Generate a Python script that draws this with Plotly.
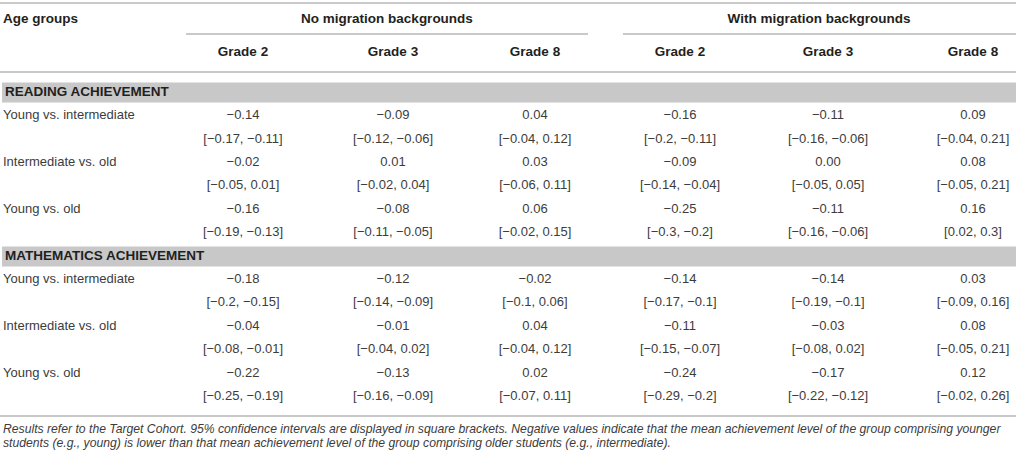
import plotly.graph_objects as go

# table content
groups = ["No migration backgrounds", "With migration backgrounds"]
grades = ["Grade 2", "Grade 3", "Grade 8"]
sections = ["READING ACHIEVEMENT", "MATHEMATICS ACHIEVEMENT"]
comparisons = ["Young vs. intermediate", "Intermediate vs. old", "Young vs. old"]

# columns: no migration G2, G3, G8, with migration G2, G3, G8
reading_mean = [
    [-0.14, -0.09, 0.04, -0.16, -0.11, 0.09],
    [-0.02, 0.01, 0.03, -0.09, 0.00, 0.08],
    [-0.16, -0.08, 0.06, -0.25, -0.11, 0.16],
]
reading_low = [
    [-0.17, -0.12, -0.04, -0.2, -0.16, -0.04],
    [-0.05, -0.02, -0.06, -0.14, -0.05, -0.05],
    [-0.19, -0.11, -0.02, -0.3, -0.16, 0.02],
]
reading_high = [
    [-0.11, -0.06, 0.12, -0.11, -0.06, 0.21],
    [0.01, 0.04, 0.11, -0.04, 0.05, 0.21],
    [-0.13, -0.05, 0.15, -0.2, -0.06, 0.3],
]
math_mean = [
    [-0.18, -0.12, -0.02, -0.14, -0.14, 0.03],
    [-0.04, -0.01, 0.04, -0.11, -0.03, 0.08],
    [-0.22, -0.13, 0.02, -0.24, -0.17, 0.12],
]
math_low = [
    [-0.2, -0.14, -0.1, -0.17, -0.19, -0.09],
    [-0.08, -0.04, -0.04, -0.15, -0.08, -0.05],
    [-0.25, -0.16, -0.07, -0.29, -0.22, -0.02],
]
math_high = [
    [-0.15, -0.09, 0.06, -0.1, -0.1, 0.16],
    [-0.01, 0.02, 0.12, -0.07, 0.02, 0.21],
    [-0.19, -0.09, 0.11, -0.2, -0.12, 0.26],
]

footnote = [
    "Results refer to the Target Cohort. 95% confidence intervals are displayed in square brackets. "
    "Negative values indicate that the mean achievement level of the group comprising younger",
    "students (e.g., young) is lower than that mean achievement level of the group comprising older "
    "students (e.g., intermediate).",
]

# layout (pixel units on hidden axes)
W, H = 1016, 458
col_x = [243, 393, 535, 680, 828, 973]
group_x = [387, 819]
group_lines = [(186, 588), (623, W)]
label_x = 3
y_head, y_grade = 20, 53
rules = [3, 72, 416]
row0, pitch = 116, 23.4
y_foot = [430, 444]

FONT = "Liberation Sans"
DARK = "#231f20"
BODY = "#3c3c3c"
RULE = "#c9c9c9"
BAND = "#c8c8c8"


def fmt_mean(v):
    return f"{v:.2f}".replace("-", "\u2212")


def fmt_bound(v):
    return f"{v:.2f}".rstrip("0").replace("-", "\u2212")


def slot_y(slot):
    return row0 + slot * pitch


fig = go.Figure()
shapes = []


def add_text(xs, ys, texts, pos, size=13, color=BODY, bold=False, italic=False):
    fig.add_trace(go.Scatter(
        x=xs, y=ys, text=texts, mode="text", textposition=pos,
        textfont=dict(family=FONT, size=size, color=color,
                      weight="bold" if bold else "normal",
                      style="italic" if italic else "normal"),
        hoverinfo="skip", showlegend=False, cliponaxis=False,
    ))


# header
add_text([label_x], [y_head], ["Age groups"], "middle right", size=13.5, color=DARK, bold=True)
add_text(group_x, [y_head, y_head], groups, "middle center", size=13.5, color=DARK, bold=True)
add_text(col_x, [y_grade] * 6, grades * 2, "middle center", size=13.5, color=DARK, bold=True)

for x0, x1 in group_lines:
    shapes.append(dict(type="line", xref="x", yref="y", x0=x0, x1=x1, y0=34, y1=34,
                       line=dict(color=RULE, width=2)))
for y in rules:
    shapes.append(dict(type="line", xref="x", yref="y", x0=0, x1=W, y0=y, y1=y,
                       line=dict(color=RULE, width=2)))

blocks = [(reading_mean, reading_low, reading_high), (math_mean, math_low, math_high)]
for s, (means, lows, highs) in enumerate(blocks):
    base = s * 7
    band_y = slot_y(base - 1)
    shapes.append(dict(type="rect", xref="x", yref="y", x0=2, x1=W,
                       y0=band_y - 10, y1=band_y + 10, fillcolor=BAND,
                       line=dict(width=0), layer="below"))
    add_text([label_x + 2], [band_y], [sections[s]], "middle right", size=13.5,
             color=DARK, bold=True)

    xs, ys, texts = [], [], []
    for r, name in enumerate(comparisons):
        y_val = slot_y(base + 2 * r)
        y_ci = slot_y(base + 2 * r + 1)
        for c in range(6):
            xs += [col_x[c], col_x[c]]
            ys += [y_val, y_ci]
            texts += [fmt_mean(means[r][c]),
                      "[" + fmt_bound(lows[r][c]) + ", " + fmt_bound(highs[r][c]) + "]"]
    add_text(xs, ys, texts, "middle center")
    add_text([label_x] * 3, [slot_y(base + 2 * r) for r in range(3)], comparisons,
             "middle right")

add_text([label_x] * 2, y_foot, footnote, "middle right", size=12.2, color=BODY, italic=True)

fig.update_layout(
    width=W, height=H,
    margin=dict(l=0, r=0, t=0, b=0),
    paper_bgcolor="white", plot_bgcolor="white",
    xaxis=dict(range=[0, W], visible=False, fixedrange=True),
    yaxis=dict(range=[H, 0], visible=False, fixedrange=True),
    shapes=shapes,
)

# page body has a default margin; drop it so the table sits flush like the original
fig.write_html("out.html", config={"displayModeBar": False},
               post_script="document.body.style.margin='0';")
